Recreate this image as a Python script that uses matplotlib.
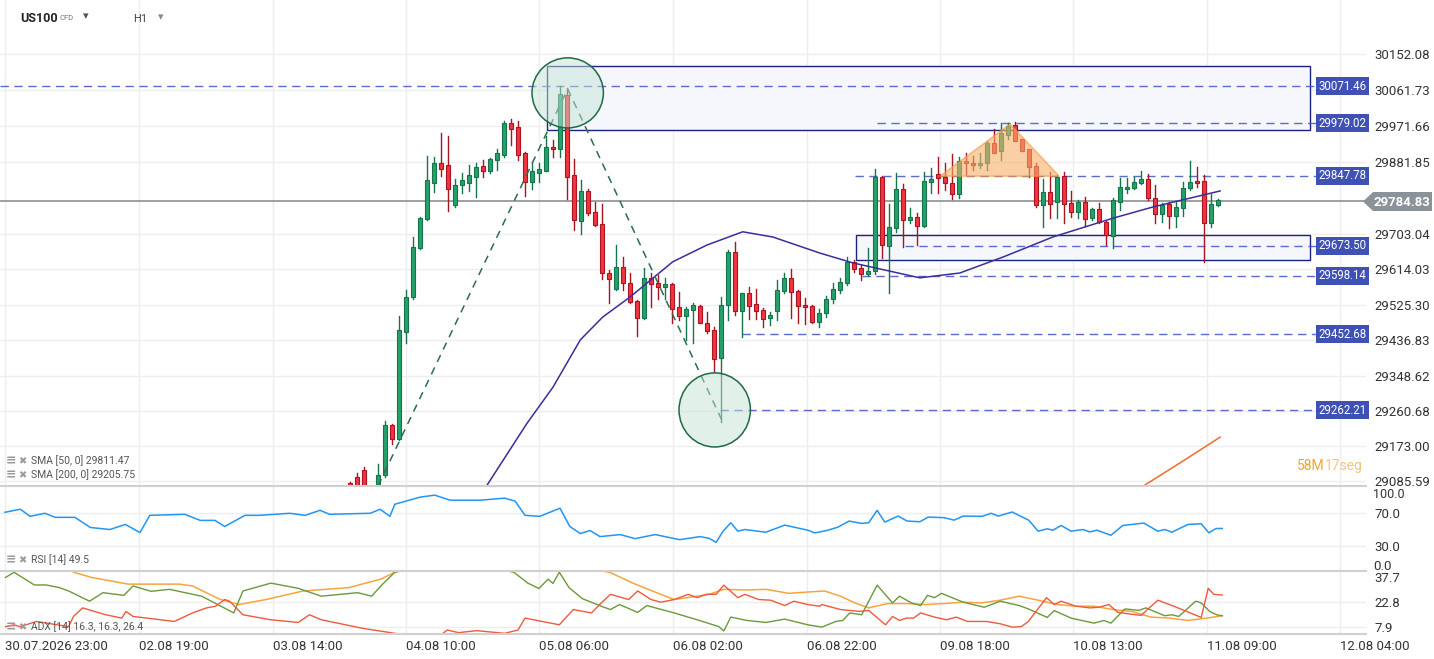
import matplotlib
matplotlib.use("Agg")
import matplotlib.pyplot as plt
from matplotlib.patches import Rectangle, Ellipse, Polygon

plt.rcParams['font.family'] = ['Roboto', 'DejaVu Sans']

# hourly candles, index 0 = first candle visible in the price panel
opens = [29081, 29096, 29113, 29055, 29076, 29101, 29225, 29190, 29458, 29544,
         29667, 29739, 29831, 29881, 29874, 29774, 29824, 29831, 29846, 29872,
         29859, 29887, 29901, 29981, 29971, 29904, 29833, 29856, 29861, 29919,
         29914, 30049, 29849, 29734, 29809, 29757, 29727, 29604, 29564, 29619,
         29579, 29534, 29492, 29592, 29579, 29569, 29577, 29519, 29498, 29512,
         29522, 29479, 29462, 29392, 29524, 29657, 29509, 29554, 29527, 29512,
         29492, 29509, 29559, 29592, 29559, 29524, 29522, 29482, 29505, 29540,
         29563, 29579, 29632, 29617, 29602, 29609, 29846, 29673, 29717, 29814,
         29737, 29744, 29722, 29832, 29852, 29844, 29829, 29802, 29886, 29881,
         29876, 29879, 29931, 29909, 29951, 29974, 29939, 29914, 29872, 29774,
         29807, 29782, 29847, 29779, 29757, 29782, 29742, 29764, 29732, 29697,
         29782, 29814, 29817, 29829, 29839, 29792, 29752, 29777, 29747, 29767,
         29817, 29834, 29834, 29729, 29774]
closes = [29071, 29067, 29063, 29063, 29101, 29225, 29190, 29463, 29546, 29671,
          29742, 29837, 29881, 29866, 29816, 29826, 29837, 29849, 29869, 29859,
          29891, 29904, 29981, 29966, 29901, 29833, 29860, 29864, 29919, 29914,
          30051, 29846, 29737, 29809, 29754, 29724, 29604, 29589, 29619, 29579,
          29532, 29492, 29592, 29577, 29569, 29577, 29514, 29498, 29514, 29524,
          29479, 29459, 29389, 29524, 29657, 29509, 29554, 29522, 29509, 29489,
          29499, 29562, 29592, 29557, 29522, 29519, 29482, 29505, 29540, 29565,
          29582, 29633, 29614, 29602, 29611, 29846, 29676, 29719, 29814, 29737,
          29744, 29722, 29835, 29839, 29842, 29829, 29802, 29886, 29879, 29876,
          29881, 29931, 29906, 29954, 29972, 29936, 29911, 29869, 29774, 29807,
          29777, 29844, 29777, 29757, 29782, 29739, 29764, 29732, 29699, 29787,
          29819, 29819, 29832, 29839, 29792, 29752, 29774, 29747, 29769, 29817,
          29832, 29829, 29729, 29777, 29787]
highs = [29084, 29105, 29120, 29067, 29128, 29236, 29228, 29498, 29563, 29696,
         29746, 29897, 29896, 29956, 29947, 29841, 29854, 29875, 29881, 29887,
         29893, 29916, 29985, 29989, 29985, 29908, 29879, 29879, 29947, 29937,
         30072, 30066, 29889, 29837, 29814, 29783, 29777, 29613, 29675, 29644,
         29604, 29538, 29617, 29604, 29600, 29592, 29579, 29558, 29521, 29529,
         29525, 29508, 29471, 29546, 29663, 29682, 29554, 29571, 29564, 29517,
         29508, 29588, 29604, 29615, 29563, 29542, 29525, 29515, 29548, 29579,
         29592, 29646, 29637, 29625, 29667, 29864, 29847, 29777, 29856, 29827,
         29767, 29754, 29858, 29867, 29896, 29881, 29902, 29896, 29904, 29897,
         29904, 29936, 29964, 29981, 29981, 29983, 29941, 29916, 29881, 29839,
         29858, 29850, 29858, 29810, 29787, 29794, 29767, 29781, 29734, 29792,
         29842, 29842, 29846, 29860, 29852, 29825, 29779, 29783, 29783, 29833,
         29885, 29871, 29850, 29802, 29789]
lows = [29063, 29063, 29059, 29046, 29071, 29096, 29178, 29188, 29429, 29541,
        29664, 29737, 29808, 29847, 29761, 29771, 29804, 29810, 29796, 29846,
        29856, 29862, 29896, 29925, 29887, 29797, 29816, 29833, 29861, 29894,
        29896, 29789, 29712, 29702, 29750, 29722, 29591, 29529, 29563, 29563,
        29529, 29448, 29489, 29521, 29539, 29541, 29481, 29488, 29438, 29431,
        29479, 29456, 29359, 29232, 29488, 29500, 29446, 29489, 29489, 29471,
        29475, 29488, 29554, 29493, 29479, 29477, 29479, 29470, 29495, 29530,
        29555, 29575, 29608, 29588, 29598, 29603, 29642, 29555, 29708, 29671,
        29729, 29675, 29721, 29804, 29806, 29812, 29789, 29792, 29850, 29862,
        29867, 29862, 29904, 29887, 29941, 29935, 29910, 29846, 29771, 29719,
        29742, 29742, 29729, 29744, 29742, 29722, 29737, 29729, 29675, 29667,
        29762, 29804, 29814, 29827, 29787, 29729, 29733, 29717, 29721, 29747,
        29812, 29819, 29633, 29719, 29772]

sma50_x = [19.5, 25.3, 29, 32.9, 36.1, 40, 46.1, 51, 56.1, 60.4, 67.1, 71.9, 81.4, 87.1, 93.3, 100.4, 109, 114.7, 124.3]
sma50_y = [29073, 29230, 29320, 29438, 29495, 29545, 29633, 29675, 29708, 29695, 29655, 29630, 29593, 29605, 29645, 29695, 29742, 29770, 29810]
sma200_x = [113.6, 118.6, 124.3]
sma200_y = [29076, 29131, 29195]

rsi_x = [-49.3, -47.1, -45.7, -43.6, -42.1, -39.3, -37.1, -34.3, -32.1, -30, -28.6, -23.6, -21.4, -19.3, -17.9,
         -15, -12.9, -8.6, -6.4, -4.3, -2.9, 2.9, 4.3, 5.7, 6.4, 10, 12.1, 14.3, 18.6, 22.1, 23.6, 25, 27.1, 30,
         31.4, 32.9, 34.3, 35.7, 38.6, 40.7, 43.6, 47.1, 50, 51.3, 52.3, 53.3, 54.4, 55.4, 56.4, 59.4, 62.1, 65.4,
         66.4, 68.1, 69.7, 71.3, 73.1, 74.1, 75.3, 76.4, 78.3, 79.6, 81.4, 82.6, 84.9, 86.3, 87.6, 90.3, 91.6,
         92.6, 94.6, 97, 98.3, 99.6, 100.4, 101.6, 103, 104.7, 105.7, 106.7, 108.7, 110.4, 113.4, 115.4, 116.4,
         117.4, 119.7, 121.6, 122.7, 123.7, 124.6]
rsi_y = [70.4, 74, 65.6, 69.2, 64.4, 64.4, 52.4, 50, 56, 46.4, 66.8, 68, 60.8, 60.8, 53.6,
         66.8, 66.8, 69.2, 66.8, 72.7, 68, 69.2, 74, 65.6, 79.9, 88.3, 90.7, 84.7, 84.7, 87.1, 83.5, 66.8, 65.6, 75.2,
         53.6, 45.2, 48.8, 41.6, 44, 39.2, 44, 38, 41.6, 39.6, 34.8, 48, 58, 48, 50, 46.8, 55.2, 49.2,
         46, 48.8, 52.8, 60, 57.2, 58, 72.7, 58.8, 65.9, 60, 59.2, 64.7, 64, 61.1, 65.9, 65.6, 69.2,
         65.9, 70.7, 60.8, 48, 50.8, 49.2, 54.8, 48, 50, 47.2, 49.2, 43.2, 54.8, 57.6, 48, 50,
         46.8, 56, 56.8, 46, 51.2, 51.2]

adx_x = [-39.5, -36.9, -31.7, -24.4, -22.5, -18.5, -15.9, -12, -6.7, -0.2, 4.4, 6.4, 15, 25, 37.1, 40.4, 44.4,
         46.3, 49.6, 51.3, 53.4, 56.7, 59.4, 62.7, 65.4, 67.8, 70.1, 72.1, 74.1, 76.8, 79.5, 82.2, 84.9, 87.6,
         90.2, 92.9, 95.6, 98.3, 101, 103.7, 106.3, 109, 111.7, 114.4, 117.1, 119.7, 122.4, 124.6]
adx_y = [40.7, 37.6, 33.6, 33.6, 32.5, 24.4, 21.4, 24.4, 29.5, 31.5, 36.6, 40.7, 50, 48, 40.7, 34.2, 27.5,
         24.4, 26.4, 27.5, 30.5, 30.1, 30.5, 28.1, 28.9, 29.5, 26.4, 22.4, 19.4, 22, 22, 21.4, 22, 22.8,
         22.4, 24, 26.4, 24, 21.4, 20.4, 20.4, 18.4, 17.3, 13.9, 13.3, 11.9, 13.3, 14.7]
pdi_x = [-49.2, -48, -45.1, -43.4, -41.5, -40.2, -37.2, -35.3, -32.3, -31, -28.4, -25.8, -21.2, -16.6, -15.3,
         -11.3, -7.4, -4.1, 1.1, 3.1, 4.4, 6.4, 15, 23.4, 25.4, 27, 28.3, 29, 29.9, 31.3, 33.2, 35.9, 37.2, 38.5,
         41.1, 42.4, 46.3, 49.6, 52.7, 53.4, 54.4, 56.7, 59.4, 62.1, 65.4, 67.4, 69.4, 70.4, 71.4, 73.1, 75.3,
         77.5, 78.5, 80.2, 81.5, 82.5, 83.5, 84.5, 87.6, 90.6, 92.9, 95.6, 96.9, 99.6, 100.6, 103, 106.3, 107.7,
         108.7, 110.7, 112.7, 113.7, 116.4, 117.4, 118.4, 120.8, 121.6, 122.8, 123.8, 124.6]
pdi_y = [37.6, 40.7, 33.1, 33.1, 31.5, 29.5, 23.4, 28.5, 26.9, 32.5, 29.3, 30.5, 26.4, 16.4, 29.5,
         34.2, 31.1, 26.4, 28.5, 26.4, 32.5, 40.7, 48, 40.7, 34.2, 31, 36.6, 34, 40.7, 31.5, 24.9, 20.4, 18.4, 21.4,
         16.7, 20.8, 16.4, 12.3, 8.2, 5.6, 13.9, 11.9, 10.7, 12.7, 9.3, 7.9, 11.3, 11.9, 16.4, 15.3, 33,
         22.4, 26.4, 22.4, 20.8, 26.9, 25.5, 28.1, 22.8, 19.8, 23.4, 20.8, 18.8, 13.7, 17.8, 13.3, 10.3, 11.9,
         10.3, 18.8, 17.9, 19.4, 14.7, 15.3, 14.3, 23.4, 22.4, 17.3, 15.3, 14.7]
mdi_x = [-49.2, -48, -47.1, -44.8, -40.2, -39.5, -38.2, -34.9, -32.6, -32, -31, -25.1, -22.5, -20.5, -19.2,
         -17.9, -17.2, -15.3, -11.3, -7.4, -5.8, -4.1, 1.8, 6.4, 12, 13.9, 15.5, 18.1, 22.1, 24, 25, 29.9, 31.9,
         34.5, 35.9, 37.2, 39.8, 41.1, 43, 44.4, 46.3, 48.3, 49.6, 50.9, 52.3, 53.4, 55.4, 56.4, 58.4, 60.1,
         62.1, 63.4, 65.4, 67.1, 67.4, 70.1, 72.8, 74.1, 75.1, 76.5, 77.5, 78.5, 79.5, 80.5, 81.5, 83.5, 85.2,
         86.6, 88.2, 90.9, 92.9, 94.6, 95.9, 96.9, 98, 99.5, 100.6, 101.6, 103.7, 105.7, 107, 108.4, 109.7, 113,
         115.4, 117.7, 121.6, 122.6, 123.4, 124.6]
mdi_y = [8.2, 9.3, 8.2, 11.3, 8.2, 14.3, 19.4, 15.3, 13.3, 17.3, 14.3, 11.3, 16.4, 19.4, 20.4,
         24.4, 23.4, 15.3, 12.3, 10.7, 15.3, 12.3, 7.2, 4.2, 0, 6.2, 4.6, 5.8, 4.2, 6.2, 13.3, 9.3, 18.4,
         16.4, 22.4, 27.5, 24.4, 29.5, 24.4, 22.8, 24.4, 27.5, 25.5, 27.5, 27.5, 33, 25.5, 27.5, 24.4, 24,
         20.8, 23.4, 21.4, 20.4, 21.4, 18.4, 17.3, 17.9, 14.3, 9.3, 14.3, 11.9, 13.3, 13.3, 16.4, 13.9, 12.3,
         13.9, 11.3, 11.3, 9.9, 7.9, 8.2, 11.3, 17.3, 25.5, 21.4, 23.4, 20.4, 19.4, 19.8, 21.4, 16.7, 14.9,
         24, 20.4, 13.7, 31.1, 27.5, 27.1]

levels = [30071.46, 29979.02, 29847.78, 29673.50, 29598.14, 29452.68, 29262.21]
level_start = [-50, 75.3, 72.1, 79.3, 73.1, 56, 52.9]
last_price = 29784.83
price_ticks = [30152.08, 30061.73, 29971.66, 29881.85, 29703.04, 29614.03, 29525.30,
               29436.83, 29348.62, 29260.68, 29173.00, 29085.59]
time_pos = [-49.3, -30.1, -11, 8, 27, 46.1, 65.3, 84.3, 103.3, 122.4, 141.4]
time_labels = ["30.07.2026 23:00", "02.08 19:00", "03.08 14:00", "04.08 10:00", "05.08 06:00",
               "06.08 02:00", "06.08 22:00", "09.08 18:00", "10.08 13:00", "11.08 09:00", "12.08 04:00"]

W, H = 1434, 659
fig = plt.figure(figsize=(W / 100, H / 100), dpi=100)
XL = (-50, 145.14)
right = 1366 / W

ax = fig.add_axes([0, 1 - 486 / H, right, 486 / H])
ar = fig.add_axes([0, 1 - 571 / H, right, 85 / H])
aa = fig.add_axes([0, 1 - 634 / H, right, 63 / H])

grid_c = '#eeeeee'
for a in (ax, ar, aa):
    a.set_xlim(*XL)
    for s in a.spines.values():
        s.set_visible(False)
    a.tick_params(length=0, labelsize=9.5, colors='#333333')
    a.yaxis.tick_right()
    for t in time_pos:
        a.axvline(t, color=grid_c, lw=1, zorder=0)
    a.set_xticks([])
    a.tick_params(axis='y', pad=6)

# price panel
ax.set_ylim(29073, 30287)
ax.set_yticks(price_ticks)
ax.set_yticklabels([f"{v:.2f}" for v in price_ticks])
for v in price_ticks:
    ax.axhline(v, color=grid_c, lw=1, zorder=0)

green, green_e = '#23a26b', '#15744a'
red, red_e = '#f2343f', '#a8141f'
for i in range(len(opens)):
    o, c, h, l = opens[i], closes[i], highs[i], lows[i]
    up = c >= o
    ec = green_e if up else red_e
    ax.plot([i, i], [l, h], color=ec, lw=1, zorder=3)
    ax.add_patch(Rectangle((i - 0.35, min(o, c)), 0.7, max(abs(c - o), 1.5),
                           facecolor=green if up else red, edgecolor=ec, lw=0.8, zorder=4))

box_e, box_f = '#1a237e', '#f5f7fd'
ax.add_patch(Rectangle((28.1, 29962), 137.1 - 28.1, 30122 - 29962, facecolor=box_f, edgecolor=box_e, lw=1, zorder=1))
ax.add_patch(Rectangle((72.3, 29638), 137.1 - 72.3, 29700 - 29638, facecolor=box_f, edgecolor=box_e, lw=1, zorder=1))

lvl_c = '#4152c4'
for v, s in zip(levels, level_start):
    ax.plot([s, 138.3], [v, v], color=lvl_c, lw=1, ls=(0, (6, 4)), alpha=0.85, zorder=2)
    ax.text(138.4, v, f"{v:.2f}", ha='left', va='center', fontsize=8.3, color='white',
            bbox=dict(boxstyle='square,pad=0.22', fc='#3f51b5', ec='none'), zorder=6, clip_on=False)

ax.axhline(last_price, color='#8f8f8f', lw=1.2, zorder=2)

ax.plot(sma50_x, sma50_y, color='#3a2d9c', lw=1.1, zorder=5)
ax.plot(sma200_x, sma200_y, color='#f26b2a', lw=1.1, zorder=5)

zz_c = '#2a6e4d'
ax.plot([4, 31.1, 53.1], [29073, 30065, 29238], color=zz_c, lw=1.1, ls=(0, (5, 4)), zorder=5)
for cx, cy, hh in [(31.1, 30055, 175), (52.1, 29263, 185)]:
    ax.add_patch(Ellipse((cx, cy), 10.2, hh, facecolor='#c5e3d4', alpha=0.5, edgecolor='none', zorder=6))
    ax.add_patch(Ellipse((cx, cy), 10.2, hh, facecolor='none', edgecolor='#1f6a45', lw=1.1, zorder=6))

ax.add_patch(Polygon([(84.3, 29847), (94.3, 29977), (101.3, 29847)], closed=True,
                     facecolor='#f7b06a', alpha=0.6, edgecolor='#f39a3d', lw=1.2, zorder=6))

# RSI panel
ar.set_ylim(0.9, 101.5)
ar.set_yticks([70, 30])
ar.set_yticklabels(['70.0', '30.0'])
for v in (70, 30):
    ar.axhline(v, color=grid_c, lw=1, zorder=0)
ar.plot(rsi_x, rsi_y, color='#2196f3', lw=1.1)

# ADX panel
aa.set_ylim(3.8, 41.45)
aa.set_yticks([37.7, 22.8, 7.9])
aa.set_yticklabels(['37.7', '22.8', '7.9'])
for v in (22.8, 7.9):
    aa.axhline(v, color=grid_c, lw=1, zorder=0)
aa.plot(adx_x, adx_y, color='#f7a440', lw=1.1)
aa.plot(pdi_x, pdi_y, color='#6a9a3a', lw=1.0)
aa.plot(mdi_x, mdi_y, color='#ee5a3e', lw=1.0)
aa.set_xticks(time_pos)
aa.set_xticklabels(time_labels, ha='left')
aa.tick_params(axis='x', pad=4, labelsize=9.5)

# panel separators
for yy in (486, 571, 634):
    fig.add_artist(plt.Line2D([0, right], [1 - yy / H] * 2, color='#d0d0d0', lw=1.5))

def ft(x, y, s, **kw):
    fig.text(x / W, 1 - y / H, s, **kw)

ft(1373, 494, '100.0', fontsize=9, color='#333333', va='center')
ft(1373, 566, '0.0', fontsize=9.5, color='#333333', va='center')

# current price badge
fig.add_artist(Polygon([(1363 / W, 1 - 201.5 / H), (1373 / W, 1 - 192 / H), (1432 / W, 1 - 192 / H),
                        (1432 / W, 1 - 211 / H), (1373 / W, 1 - 211 / H)], closed=True,
                       transform=fig.transFigure, facecolor='#8a9399', edgecolor='none'))
ft(1402, 202, f"{last_price:.2f}", fontsize=9.5, color='white', weight='bold', ha='center', va='center')

ft(20, 18, 'US100', fontsize=9, weight='bold', color='#222222', va='center')
ft(60, 18, 'CFD', fontsize=5.5, color='#777777', va='center')
ft(83, 16, '▾', fontsize=8, color='#555555', va='center')
ft(133, 19, 'H1', fontsize=8, color='#444444', va='center')
ft(158, 17, '▾', fontsize=8, color='#888888', va='center')

lab_c = '#555555'
for y, s in [(461, 'SMA [50, 0] 29811.47'), (475, 'SMA [200, 0] 29205.75'),
             (560, 'RSI [14] 49.5'), (627, 'ADX [14] 16.3, 16.3, 26.4')]:
    ft(6, y, '≡', fontsize=9, color='#9a9a9a', va='center', weight='bold')
    ft(18, y, '✖', fontsize=7, color='#9a9a9a', va='center')
    ft(31, y, s, fontsize=7.5, color=lab_c, va='center')

ft(1297, 466, '58M', fontsize=10, color='#f5a623', va='center')
ft(1325, 466, '17seg', fontsize=10, color='#f7c27a', va='center')

fig.savefig('out.png', dpi=100)
